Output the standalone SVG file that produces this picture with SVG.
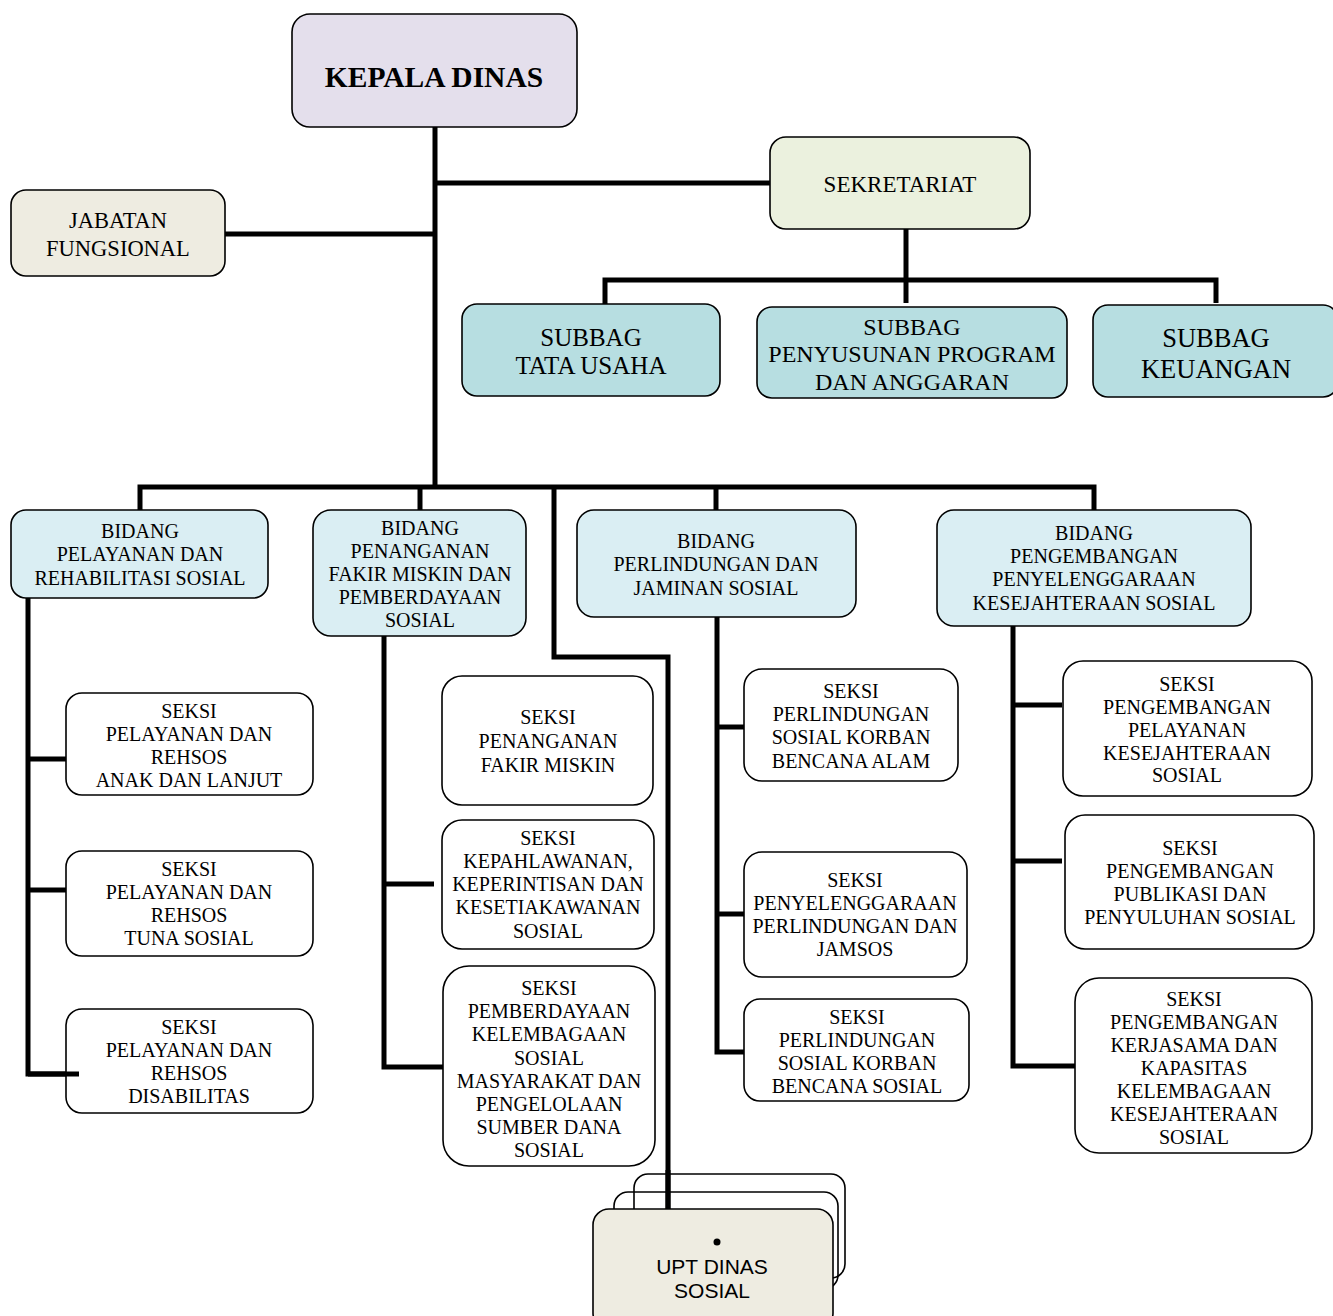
<svg xmlns="http://www.w3.org/2000/svg" width="1333" height="1316" viewBox="0 0 1333 1316">
<style>
.box{stroke:#000;stroke-width:1.6}
.t{font-family:"Liberation Serif","Times New Roman",serif;text-anchor:middle;fill:#000}
.s18{font-size:20px}
.ln{stroke:#000;stroke-width:5;fill:none;stroke-linecap:butt;stroke-linejoin:miter}
</style>
<rect width="1333" height="1316" fill="#fff"/>
<g id="connectors">
<path class="ln" d="M435 127V487"/>
<path class="ln" d="M435 183H770"/>
<path class="ln" d="M225 234H435"/>
<path class="ln" d="M906 229V303"/>
<path class="ln" d="M605 304V280H1216V303"/>
<path class="ln" d="M140 510V487H1094V510"/>
<path class="ln" d="M420 487V510"/>
<path class="ln" d="M716 487V510"/>
<path class="ln" d="M554 487V657H668V1210"/>
<path class="ln" d="M28 598V1074H79"/>
<path class="ln" d="M28 759H66"/>
<path class="ln" d="M28 890H66"/>
<path class="ln" d="M384 636V1067H444"/>
<path class="ln" d="M384 884H434"/>
<path class="ln" d="M717 617V1052H744"/>
<path class="ln" d="M717 727H744"/>
<path class="ln" d="M717 914H744"/>
<path class="ln" d="M1013 626V1066H1075"/>
<path class="ln" d="M1013 705H1062"/>
<path class="ln" d="M1013 861H1062"/>
</g>
<g id="kepala">
<rect class="box" x="292" y="14" width="285" height="113" rx="18" fill="#E4DFEC"/>
<text class="t" x="434" y="87" font-size="29.5" font-weight="bold">KEPALA DINAS</text>
</g>
<g id="sekretariat">
<rect class="box" x="770" y="137" width="260" height="92" rx="16" fill="#EBF1DE"/>
<text class="t" x="900" y="192" font-size="23">SEKRETARIAT</text>
</g>
<g id="jabatan">
<rect class="box" x="11" y="190" width="214" height="86" rx="15" fill="#EEECE1"/>
<text class="t" x="118" y="228" font-size="22.5">JABATAN</text>
<text class="t" x="118" y="256" font-size="22.5">FUNGSIONAL</text>
</g>
<g id="subbag-tu">
<rect class="box" x="462" y="304" width="258" height="92" rx="15" fill="#B7DEE1"/>
<text class="t" x="591" y="346" font-size="25">SUBBAG</text>
<text class="t" x="591" y="374" font-size="25">TATA USAHA</text>
</g>
<g id="subbag-pp">
<rect class="box" x="757" y="307" width="310" height="91" rx="15" fill="#B7DEE1"/>
<text class="t" x="912" y="334.5" font-size="24">SUBBAG</text>
<text class="t" x="912" y="361.5" font-size="24">PENYUSUNAN PROGRAM</text>
<text class="t" x="912" y="389.5" font-size="24">DAN ANGGARAN</text>
</g>
<g id="subbag-keu">
<rect class="box" x="1093" y="305" width="245" height="92" rx="15" fill="#B7DEE1"/>
<text class="t" x="1216" y="346.5" font-size="26.5">SUBBAG</text>
<text class="t" x="1216" y="377.5" font-size="26.5">KEUANGAN</text>
</g>
<g id="bidang-1">
<rect class="box" x="11" y="510" width="257" height="88" rx="15" fill="#DAEEF3"/>
<text class="t s18" x="140" y="538">BIDANG</text>
<text class="t s18" x="140" y="561">PELAYANAN DAN</text>
<text class="t s18" x="140" y="585">REHABILITASI SOSIAL</text>
</g>
<g id="bidang-2">
<rect class="box" x="313" y="510" width="213" height="126" rx="18" fill="#DAEEF3"/>
<text class="t s18" x="420" y="535">BIDANG</text>
<text class="t s18" x="420" y="558">PENANGANAN</text>
<text class="t s18" x="420" y="581">FAKIR MISKIN DAN</text>
<text class="t s18" x="420" y="604">PEMBERDAYAAN</text>
<text class="t s18" x="420" y="627">SOSIAL</text>
</g>
<g id="bidang-3">
<rect class="box" x="577" y="510" width="279" height="107" rx="17" fill="#DAEEF3"/>
<text class="t s18" x="716" y="548">BIDANG</text>
<text class="t s18" x="716" y="571">PERLINDUNGAN DAN</text>
<text class="t s18" x="716" y="595">JAMINAN SOSIAL</text>
</g>
<g id="bidang-4">
<rect class="box" x="937" y="510" width="314" height="116" rx="17" fill="#DAEEF3"/>
<text class="t s18" x="1094" y="540">BIDANG</text>
<text class="t s18" x="1094" y="563">PENGEMBANGAN</text>
<text class="t s18" x="1094" y="586">PENYELENGGARAAN</text>
<text class="t s18" x="1094" y="610">KESEJAHTERAAN SOSIAL</text>
</g>
<g id="seksi-1a">
<rect class="box" x="66" y="693" width="247" height="102" rx="16" fill="#fff"/>
<text class="t s18" x="189" y="718">SEKSI</text>
<text class="t s18" x="189" y="741">PELAYANAN DAN</text>
<text class="t s18" x="189" y="764">REHSOS</text>
<text class="t s18" x="189" y="787">ANAK DAN LANJUT</text>
</g>
<g id="seksi-1b">
<rect class="box" x="66" y="851" width="247" height="105" rx="16" fill="#fff"/>
<text class="t s18" x="189" y="876">SEKSI</text>
<text class="t s18" x="189" y="899">PELAYANAN DAN</text>
<text class="t s18" x="189" y="922">REHSOS</text>
<text class="t s18" x="189" y="945">TUNA SOSIAL</text>
</g>
<g id="seksi-1c">
<rect class="box" x="66" y="1009" width="247" height="104" rx="16" fill="#fff"/>
<text class="t s18" x="189" y="1034">SEKSI</text>
<text class="t s18" x="189" y="1057">PELAYANAN DAN</text>
<text class="t s18" x="189" y="1080">REHSOS</text>
<text class="t s18" x="189" y="1103">DISABILITAS</text>
</g>
<path class="ln" d="M28 1074H79"/>
<g id="seksi-2a">
<rect class="box" x="442" y="676" width="211" height="129" rx="20" fill="#fff"/>
<text class="t s18" x="548" y="724">SEKSI</text>
<text class="t s18" x="548" y="748">PENANGANAN</text>
<text class="t s18" x="548" y="772">FAKIR MISKIN</text>
</g>
<g id="seksi-2b">
<rect class="box" x="442" y="820" width="212" height="129" rx="20" fill="#fff"/>
<text class="t s18" x="548" y="845">SEKSI</text>
<text class="t s18" x="548" y="868">KEPAHLAWANAN,</text>
<text class="t s18" x="548" y="891">KEPERINTISAN DAN</text>
<text class="t s18" x="548" y="914">KESETIAKAWANAN</text>
<text class="t s18" x="548" y="938">SOSIAL</text>
</g>
<g id="seksi-2c">
<rect class="box" x="443" y="966" width="212" height="200" rx="26" fill="#fff"/>
<text class="t s18" x="549" y="995">SEKSI</text>
<text class="t s18" x="549" y="1018">PEMBERDAYAAN</text>
<text class="t s18" x="549" y="1041">KELEMBAGAAN</text>
<text class="t s18" x="549" y="1065">SOSIAL</text>
<text class="t s18" x="549" y="1088">MASYARAKAT DAN</text>
<text class="t s18" x="549" y="1111">PENGELOLAAN</text>
<text class="t s18" x="549" y="1134">SUMBER DANA</text>
<text class="t s18" x="549" y="1157">SOSIAL</text>
</g>
<g id="seksi-3a">
<rect class="box" x="744" y="669" width="214" height="112" rx="18" fill="#fff"/>
<text class="t s18" x="851" y="698">SEKSI</text>
<text class="t s18" x="851" y="721">PERLINDUNGAN</text>
<text class="t s18" x="851" y="744">SOSIAL KORBAN</text>
<text class="t s18" x="851" y="768">BENCANA ALAM</text>
</g>
<g id="seksi-3b">
<rect class="box" x="744" y="852" width="223" height="125" rx="18" fill="#fff"/>
<text class="t s18" x="855" y="887">SEKSI</text>
<text class="t s18" x="855" y="910">PENYELENGGARAAN</text>
<text class="t s18" x="855" y="933">PERLINDUNGAN DAN</text>
<text class="t s18" x="855" y="956">JAMSOS</text>
</g>
<g id="seksi-3c">
<rect class="box" x="744" y="999" width="225" height="102" rx="16" fill="#fff"/>
<text class="t s18" x="857" y="1024">SEKSI</text>
<text class="t s18" x="857" y="1047">PERLINDUNGAN</text>
<text class="t s18" x="857" y="1070">SOSIAL KORBAN</text>
<text class="t s18" x="857" y="1093">BENCANA SOSIAL</text>
</g>
<g id="seksi-4a">
<rect class="box" x="1063" y="661" width="249" height="135" rx="20" fill="#fff"/>
<text class="t s18" x="1187" y="691">SEKSI</text>
<text class="t s18" x="1187" y="714">PENGEMBANGAN</text>
<text class="t s18" x="1187" y="737">PELAYANAN</text>
<text class="t s18" x="1187" y="760">KESEJAHTERAAN</text>
<text class="t s18" x="1187" y="782">SOSIAL</text>
</g>
<g id="seksi-4b">
<rect class="box" x="1065" y="815" width="249" height="134" rx="20" fill="#fff"/>
<text class="t s18" x="1190" y="855">SEKSI</text>
<text class="t s18" x="1190" y="878">PENGEMBANGAN</text>
<text class="t s18" x="1190" y="901">PUBLIKASI DAN</text>
<text class="t s18" x="1190" y="924">PENYULUHAN SOSIAL</text>
</g>
<g id="seksi-4c">
<rect class="box" x="1075" y="978" width="237" height="175" rx="24" fill="#fff"/>
<text class="t s18" x="1194" y="1006">SEKSI</text>
<text class="t s18" x="1194" y="1029">PENGEMBANGAN</text>
<text class="t s18" x="1194" y="1052">KERJASAMA DAN</text>
<text class="t s18" x="1194" y="1075">KAPASITAS</text>
<text class="t s18" x="1194" y="1098">KELEMBAGAAN</text>
<text class="t s18" x="1194" y="1121">KESEJAHTERAAN</text>
<text class="t s18" x="1194" y="1144">SOSIAL</text>
</g>
<g id="upt">
<rect class="box" x="634" y="1174" width="211" height="104" rx="14" fill="none"/>
<rect class="box" x="614" y="1192" width="224" height="97" rx="14" fill="none"/>
<path class="ln" d="M668 1170V1210"/>
<rect class="box" x="593" y="1209" width="240" height="120" rx="16" fill="#EEECE1"/>
<circle cx="717" cy="1242" r="3.5" fill="#000"/>
<text x="712" y="1273.5" font-family="'Liberation Sans',Arial,sans-serif" font-size="21" text-anchor="middle">UPT DINAS</text>
<text x="712" y="1297.5" font-family="'Liberation Sans',Arial,sans-serif" font-size="21" text-anchor="middle">SOSIAL</text>
</g>
</svg>
